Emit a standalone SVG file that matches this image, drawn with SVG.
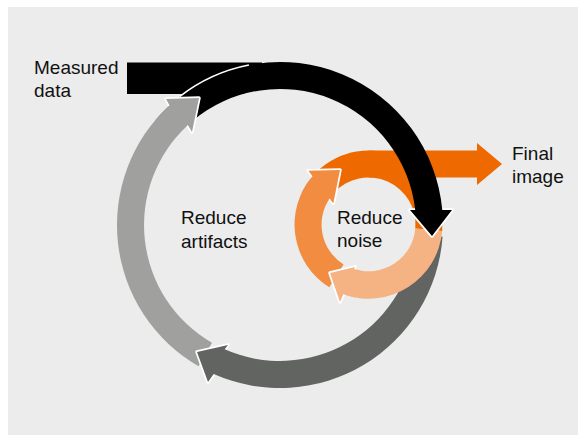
<svg xmlns="http://www.w3.org/2000/svg" width="579" height="435" viewBox="0 0 579 435">
<style>
.lg{fill:#a0a19f}
.dg{fill:#626462}
.blk{fill:#000}
.do{fill:#ee6a00}
.mo{fill:#f28c40}
.lo{fill:#f5b283}
.ol{fill:none;stroke:#fff;stroke-width:3.5;stroke-linejoin:round;stroke-linecap:round}
.lbl{font-family:"Liberation Sans",Arial,sans-serif;font-size:19px;fill:#111}
</style>
<rect x="0" y="0" width="579" height="435" fill="#fff"/>
<rect x="8" y="7" width="570" height="428" fill="#ececec"/>
<g id="connectors">
  <!-- light gray body -->
  <path class="lg" d="M198.5,366.2 A163,163 0 0 1 169.5,105.2 L187.8,125.1 A136,136 0 0 0 212,342.8 Z"/>
  <!-- dark gray arrow -->
  <polyline class="ol" points="213.7,373.9 208,382 197,352 228,345 224.7,349.2"/>
  <path class="dg" d="M442.6,236.4 A163,163 0 0 1 213.7,373.9 L208,382 L197,352 L228,345 L224.7,349.2 A136,136 0 0 0 415,241.6 Z"/>
  <!-- dark orange ring + output arrow -->
  <path class="do" d="M317.1,171.3 A74,74 0 0 1 442.2,231 L415.3,228.6 A47,47 0 0 0 334.1,192.4 Z"/>
  <path class="do" d="M368.5,150.5 L477,150.5 L477,143 L502,164 L477,185 L477,177.5 L368.5,177.5 Z"/>
  <!-- medium orange body -->
  <path class="mo" d="M329.3,287.3 A74,74 0 0 1 312.5,176.2 L329.5,198.4 A47,47 0 0 0 343.6,264.4 Z"/>
  <!-- light orange body -->
  <path class="lo" d="M442.2,231 A74,74 0 0 1 343.3,294.3 L354.1,269.1 A47,47 0 0 0 415.3,228.6 Z"/>
  <!-- medium orange head -->
  <polyline class="ol" points="312.5,176.2 308.3,170.7 340,170 333.3,203.3 329.5,198.4"/>
  <path class="mo" d="M301.4,193.2 A74,74 0 0 1 312.5,176.2 L308.3,170.7 L340,170 L333.3,203.3 L329.5,198.4 A47,47 0 0 0 325.9,204.6 Z"/>
  <!-- light orange head -->
  <polyline class="ol" points="343.3,294.3 340,302 330,273 355,267 354.1,269.1"/>
  <path class="lo" d="M355.7,297.4 A74,74 0 0 1 343.3,294.3 L340,302 L330,273 L355,267 L354.1,269.1 A47,47 0 0 0 360.3,270.8 Z"/>
  <!-- black input arrow -->
  <path class="blk" d="M127,62.5 L262,62.5 L262,70 L243.5,94 L127,94 Z"/>
  <polyline class="ol" points="415.2,210 410,210 432,236 452,210 442.3,210"/>
  <path class="blk" d="M175.2,100.1 A163,163 0 0 1 442.3,210 L452,210 L432,236 L410,210 L415.2,210 A136,136 0 0 0 192.6,120.8 Z"/>
  <path d="M179.6,96.6 A163,163 0 0 1 248.9,65" fill="none" stroke="#fff" stroke-width="1.6"/>
  <!-- light gray head -->
  <polyline class="ol" points="169.5,105.2 166,99 199,98 192,132 187.8,125.1"/>
  <path class="lg" d="M155.1,120.2 A163,163 0 0 1 169.5,105.2 L166,99 L199,98 L192,132 L187.8,125.1 A136,136 0 0 0 175.8,137.6 Z"/>
</g>
<g id="measured-data"><text class="lbl" x="34" y="74">Measured</text><text class="lbl" x="34" y="97">data</text></g>
<g id="reduce-artifacts"><text class="lbl" x="181" y="224">Reduce</text><text class="lbl" x="181" y="248">artifacts</text></g>
<g id="reduce-noise"><text class="lbl" x="337" y="224">Reduce</text><text class="lbl" x="337" y="247">noise</text></g>
<g id="final-image"><text class="lbl" x="512" y="160">Final</text><text class="lbl" x="512" y="183">image</text></g>
</svg>
